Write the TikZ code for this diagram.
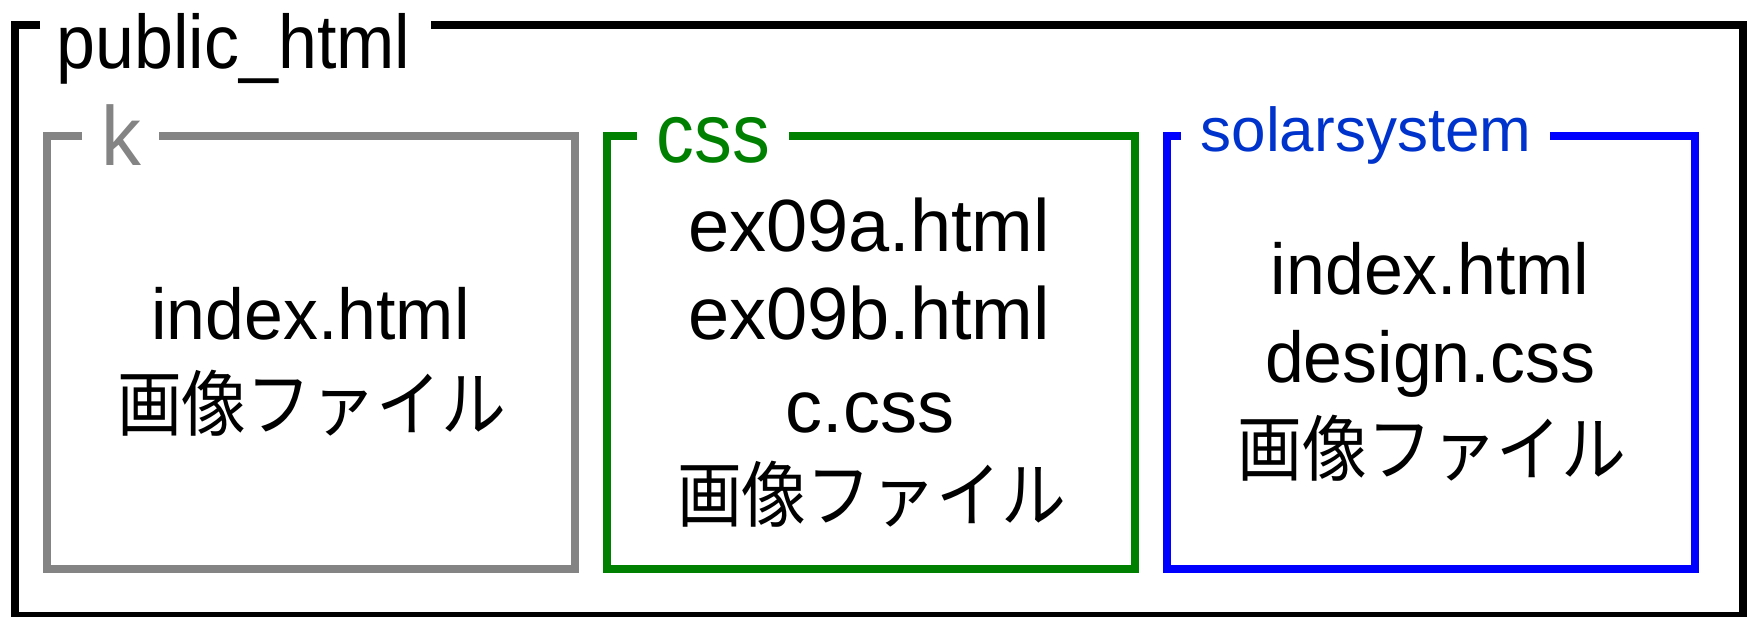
\documentclass[tikz,border=0pt]{standalone}
\usepackage{graphicx}
\usepackage{fontspec}
\setmainfont{Liberation Sans}
\newfontfamily\jpfont{Noto Sans CJK JP}
\definecolor{bxgray}{HTML}{848484}
\definecolor{bxgreen}{HTML}{008000}
\definecolor{bxblue}{HTML}{0000FF}
\definecolor{lblblue}{HTML}{0033CC}
\newcommand\ftx[3]{\scalebox{#1}[1]{\fontsize{#2}{#2}\selectfont #3}}
\newcommand\jtx[3]{\scalebox{#1}[1]{\fontsize{#2}{#2}\selectfont\jpfont #3}}
\tikzset{
  frame/.style={line width=8, line join=miter},
  txt/.style={inner sep=0, outer sep=0, anchor=center},
}
\begin{document}
\begin{tikzpicture}[x=1pt,y=-1pt]
\useasboundingbox (0,0) rectangle (1752,617);
% outer frame
\draw[frame, black] (40,25) -- (14.5,25) -- (14.5,615.5) -- (1742.5,615.5) -- (1742.5,25) -- (430.5,25);
% inner frames
\draw[frame, bxgray] (82,136.5) -- (46.5,136.5) -- (46.5,569) -- (574.7,569) -- (574.7,136.5) -- (158.8,136.5);
\draw[frame, bxgreen] (637,136.5) -- (606.5,136.5) -- (606.5,569) -- (1134.7,569) -- (1134.7,136.5) -- (788.5,136.5);
\draw[frame, bxblue] (1180.7,136.5) -- (1166.5,136.5) -- (1166.5,569) -- (1694.7,569) -- (1694.7,136.5) -- (1550,136.5);
% labels
\node[txt] (lpub) at (233.5,49) {\ftx{0.92}{76}{public\_html}};
\node[txt, text=bxgray] (lk) at (121.5,135.5) {\ftx{0.95}{84}{k}};
\node[txt, text=bxgreen] (lcss) at (713.5,140) {\ftx{0.9}{84}{css}};
\node[txt, text=lblblue] (lsolar) at (1366,135) {\ftx{1}{62}{solarsystem}};
% gray box contents
\node[txt] (k1) at (310.5,313.4) {\ftx{0.97}{72}{index.html}};
\node[txt] (k2) at (311.5,403.5) {\jtx{0.9}{72}{画像ファイル}};
% green box contents
\node[txt] (c1) at (869,225) {\ftx{1}{74}{ex09a.html}};
\node[txt] (c2) at (869,313) {\ftx{1}{74}{ex09b.html}};
\node[txt] (c3) at (870,413) {\ftx{1}{74}{c.css}};
\node[txt] (c4) at (871.5,494) {\jtx{0.9}{72}{画像ファイル}};
% blue box contents
\node[txt] (s1) at (1430,269) {\ftx{0.97}{72}{index.html}};
\node[txt] (s2) at (1430,364) {\ftx{0.97}{72}{design.css}};
\node[txt] (s3) at (1432,448) {\jtx{0.9}{72}{画像ファイル}};
\end{tikzpicture}
\end{document}
